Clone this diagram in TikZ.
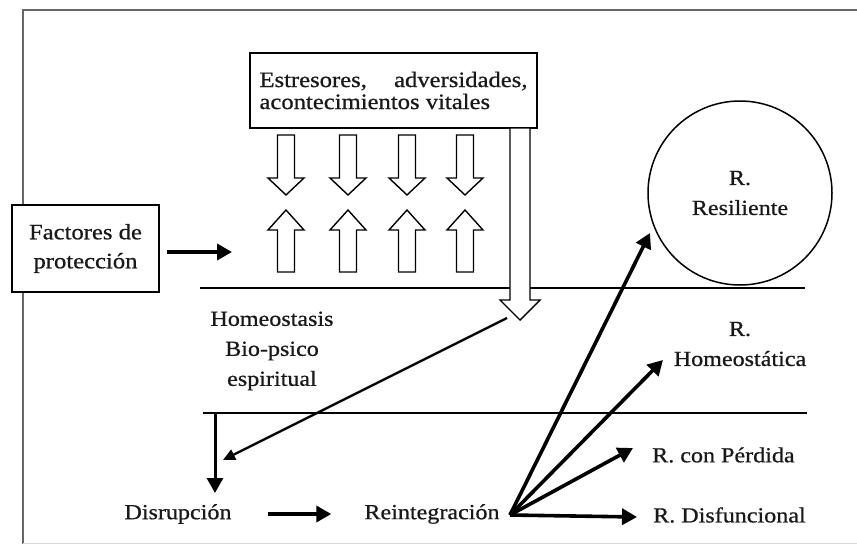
\documentclass[tikz,border=0pt]{standalone}
\usepackage{fontspec}
\setmainfont{Liberation Serif}[FakeStretch=1.12,FakeBold=0.7]
\usetikzlibrary{arrows.meta}
\tikzset{
  texto/.style={font=\fontsize{21.5}{30}\selectfont,text=black!90,inner sep=0pt,align=center},
  caja/.style={draw,line width=1.8pt,fill=white},
  flecha/.style={line width=3.6pt,-{Triangle[length=15pt,width=16pt]}},
  flechafina/.style={line width=2.3pt,-{Triangle[length=12pt,width=11pt]}},
  hueca/.style={draw,line width=1.4pt,fill=white,line join=miter},
  nivel/.style={line width=2.2pt}
}
\begin{document}
\begin{tikzpicture}[x=1pt,y=-1pt]
\useasboundingbox (0,0) rectangle (857,544);
%outer frame
\draw[black!60,line width=1.5pt](23,544)--(23,10)--(857,10);
\draw[black!15,line width=1pt](23,543)--(857,543);
%levels
\draw[nivel](200,288)--(805,288);
\draw[nivel](203,413)--(807,413);
%boxes
\node[caja,texto,font=\fontsize{22}{22}\selectfont,minimum width=287pt,minimum height=75pt,
  text width=268pt,align=justify] (estres) at (393.5,90.5)
  {Estresores, adversidades, acontecimientos vitales};
\node[caja,texto,minimum width=147pt,minimum height=87pt,font=\fontsize{22}{29}\selectfont]
  (factores) at (85.5,248.5) {Factores de\\protección};
%small hollow arrows
\foreach \x in {286,348,407,465}{
\draw[hueca](\x-8.5,135)--(\x+8.5,135)--(\x+8.5,178)--(\x+18,178)--(\x,195)--(\x-18,178)--(\x-8.5,178)--cycle;
\draw[hueca](\x,210)--(\x+18,230)--(\x+8.5,230)--(\x+8.5,272)--(\x-8.5,272)--(\x-8.5,230)--(\x-18,230)--cycle;
}
%big hollow arrow
\draw[hueca](510,128)--(530,128)--(530,300)--(540,300)--(520,320)--(500,300)--(510,300)--cycle;
%labels
\node[texto] (homeo) at (272,351) {Homeostasis\\Bio-psico\\espiritual};
\node[texto] (disrup) at (178,514) {Disrupción};
\node[texto] (reinteg) at (432,514) {Reintegración};
\node[draw,circle,line width=1.5pt,minimum size=184pt,texto] (resil) at (740,193) {R.\\Resiliente};
\node[texto] (rhomeo) at (740,344) {R.\\Homeostática};
\node[texto,anchor=west] (rperd) at (652,455) {R. con Pérdida};
\node[texto,anchor=west] (rdisf) at (653,515) {R. Disfuncional};
%free ends
\coordinate (fs) at (167,252);
\coordinate (fp) at (232,252);
\coordinate (cbig) at (507,318);
\coordinate (ctip) at (223,460);
\coordinate (l2) at (215,413);
\coordinate (dtop) at (215,493);
\coordinate (o) at (510,515);
\coordinate (t1) at (650,233);
\coordinate (t2) at (663,360);
\coordinate (t3) at (633,448);
\coordinate (t4) at (637,517);
%arrows
\draw[flecha](fs)--(fp);
\draw[flechafina](cbig)--(ctip);
\draw[flecha,line width=3pt](l2)--(dtop);
\draw[flecha,shorten <=36pt,shorten >=33pt](disrup.east)--(reinteg.west);
\foreach \t in {t1,t2,t3,t4}{
\draw[flecha](o)--(\t);
}
\end{tikzpicture}
\end{document}
